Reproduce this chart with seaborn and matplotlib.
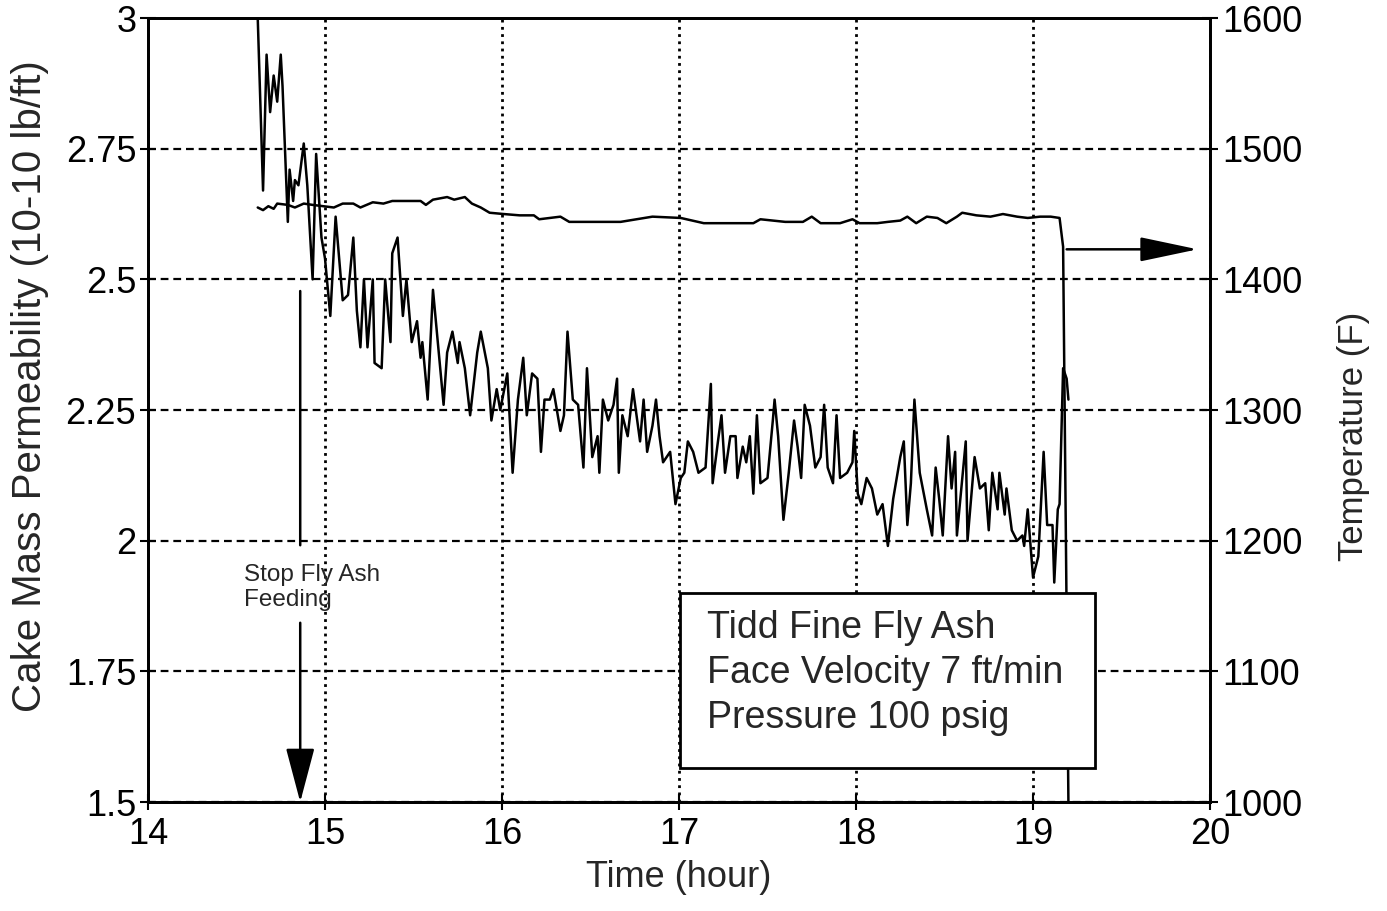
import matplotlib
matplotlib.use("Agg")
import matplotlib.pyplot as plt
from matplotlib.patches import Rectangle
import pandas as pd
import seaborn as sns

# cake mass permeability (10-10 lb/ft) vs time (hour)
perm_time = [
    14.62, 14.65, 14.67, 14.69, 14.71, 14.73, 14.75, 14.76, 14.79, 14.80,
    14.82, 14.83, 14.85, 14.88, 14.90, 14.93, 14.95, 14.98, 15.00, 15.03,
    15.06, 15.10, 15.13, 15.16, 15.18, 15.20, 15.22, 15.24, 15.27, 15.28,
    15.32, 15.34, 15.37, 15.38, 15.41, 15.44, 15.46, 15.49, 15.52, 15.54,
    15.55, 15.58, 15.61, 15.64, 15.67, 15.69, 15.72, 15.75, 15.76, 15.79,
    15.82, 15.86, 15.88, 15.92, 15.94, 15.97, 15.99, 16.03, 16.06, 16.09,
    16.12, 16.14, 16.17, 16.20, 16.22, 16.24, 16.27, 16.29, 16.33, 16.35,
    16.37, 16.40, 16.43, 16.46, 16.48, 16.51, 16.54, 16.55, 16.57, 16.60,
    16.63, 16.65, 16.66, 16.68, 16.71, 16.74, 16.78, 16.80, 16.82, 16.85,
    16.87, 16.89, 16.91, 16.95, 16.98, 17.01, 17.03, 17.05, 17.08, 17.11,
    17.15, 17.18, 17.19, 17.22, 17.24, 17.26, 17.29, 17.32, 17.33, 17.36,
    17.38, 17.40, 17.42, 17.44, 17.46, 17.50, 17.53, 17.54, 17.56, 17.59,
    17.62, 17.65, 17.67, 17.69, 17.71, 17.74, 17.77, 17.80, 17.82, 17.84,
    17.87, 17.89, 17.91, 17.95, 17.98, 17.99, 18.01, 18.03, 18.06, 18.09,
    18.12, 18.15, 18.18, 18.21, 18.25, 18.27, 18.29, 18.31, 18.33, 18.36,
    18.40, 18.43, 18.45, 18.47, 18.49, 18.52, 18.54, 18.56, 18.57, 18.62,
    18.63, 18.67, 18.70, 18.73, 18.75, 18.77, 18.80, 18.81, 18.84, 18.85,
    18.88, 18.91, 18.94, 18.95, 18.97, 19.00, 19.03, 19.06, 19.08, 19.11,
    19.12, 19.14, 19.15, 19.17, 19.19, 19.20,
]
perm_value = [
    3.00, 2.67, 2.93, 2.82, 2.89, 2.84, 2.93, 2.87, 2.61, 2.71,
    2.65, 2.69, 2.68, 2.76, 2.68, 2.50, 2.74, 2.58, 2.54, 2.43,
    2.62, 2.46, 2.47, 2.58, 2.44, 2.37, 2.50, 2.37, 2.50, 2.34,
    2.33, 2.50, 2.38, 2.55, 2.58, 2.43, 2.50, 2.38, 2.42, 2.35,
    2.38, 2.27, 2.48, 2.37, 2.26, 2.36, 2.40, 2.34, 2.38, 2.33,
    2.24, 2.36, 2.40, 2.33, 2.23, 2.29, 2.25, 2.32, 2.13, 2.27,
    2.35, 2.24, 2.32, 2.31, 2.17, 2.27, 2.27, 2.29, 2.21, 2.24,
    2.40, 2.27, 2.26, 2.14, 2.33, 2.16, 2.20, 2.13, 2.27, 2.23,
    2.26, 2.31, 2.13, 2.24, 2.20, 2.29, 2.19, 2.27, 2.17, 2.22,
    2.27, 2.20, 2.15, 2.17, 2.07, 2.12, 2.13, 2.19, 2.17, 2.13,
    2.14, 2.30, 2.11, 2.19, 2.24, 2.13, 2.20, 2.20, 2.12, 2.18,
    2.15, 2.20, 2.09, 2.24, 2.11, 2.12, 2.23, 2.27, 2.20, 2.04,
    2.13, 2.23, 2.18, 2.12, 2.26, 2.22, 2.14, 2.16, 2.26, 2.14,
    2.11, 2.24, 2.12, 2.13, 2.15, 2.21, 2.09, 2.07, 2.12, 2.10,
    2.05, 2.07, 1.99, 2.08, 2.16, 2.19, 2.03, 2.11, 2.27, 2.13,
    2.06, 2.01, 2.14, 2.08, 2.01, 2.20, 2.10, 2.17, 2.01, 2.19,
    2.00, 2.16, 2.10, 2.11, 2.02, 2.13, 2.06, 2.13, 2.05, 2.10,
    2.02, 2.00, 2.01, 1.99, 2.06, 1.93, 1.97, 2.17, 2.03, 2.03,
    1.92, 2.06, 2.07, 2.33, 2.31, 2.27,
]

# temperature (F) vs time (hour)
temp_time = [
    14.62, 14.65, 14.68, 14.71, 14.73, 14.79, 14.83, 14.88, 14.93, 14.99,
    15.05, 15.10, 15.16, 15.20, 15.27, 15.33, 15.38, 15.46, 15.54, 15.57,
    15.61, 15.69, 15.73, 15.79, 15.83, 15.88, 15.93, 16.01, 16.10, 16.18,
    16.21, 16.33, 16.38, 16.53, 16.67, 16.85, 17.01, 17.14, 17.29, 17.42,
    17.46, 17.60, 17.70, 17.75, 17.80, 17.91, 17.98, 18.02, 18.12, 18.18,
    18.25, 18.29, 18.34, 18.40, 18.46, 18.51, 18.57, 18.60, 18.68, 18.76,
    18.83, 18.91, 18.97, 19.04, 19.10, 19.15, 19.17, 19.20,
]
temp_value = [
    1455, 1453, 1456, 1454, 1458, 1457, 1455, 1458, 1457, 1456,
    1455, 1458, 1458, 1455, 1459, 1458, 1460, 1460, 1460, 1457,
    1461, 1463, 1461, 1463, 1458, 1455, 1451, 1450, 1449, 1449,
    1446, 1448, 1444, 1444, 1444, 1448, 1447, 1443, 1443, 1443,
    1446, 1444, 1444, 1448, 1443, 1443, 1446, 1443, 1443, 1444,
    1445, 1448, 1443, 1448, 1447, 1443, 1448, 1451, 1449, 1448,
    1450, 1448, 1447, 1448, 1448, 1447, 1425, 1000,
]

box_lines = ["Tidd Fine Fly Ash", "Face Velocity 7 ft/min", "Pressure 100 psig"]

sns.set_style("ticks")
plt.rcParams["font.family"] = ["Liberation Sans", "DejaVu Sans"]

perm = pd.DataFrame({"time": perm_time, "value": perm_value})
temp = pd.DataFrame({"time": temp_time, "value": temp_value})

fig = plt.figure(figsize=(13.87, 9.11), dpi=100)
ax = fig.add_axes([0.1067, 0.1196, 0.7657, 0.8606])
ax2 = ax.twinx()

sns.lineplot(data=perm, x="time", y="value", ax=ax, color="black", lw=1.8,
             estimator=None, sort=False)
sns.lineplot(data=temp, x="time", y="value", ax=ax2, color="black", lw=1.8,
             estimator=None, sort=False)

ax.set_xlim(14, 20)
ax.set_ylim(1.5, 3)
ax2.set_ylim(1000, 1600)
ax.set_xticks(range(14, 21))
ax.set_yticks([1.5, 1.75, 2, 2.25, 2.5, 2.75, 3])
ax.set_yticklabels(["1.5", "1.75", "2", "2.25", "2.5", "2.75", "3"])
ax2.set_yticks(range(1000, 1700, 100))

ax.grid(axis="x", color="black", lw=2.0, linestyle=(0, (1, 1.6)))
ax.grid(axis="y", color="black", lw=1.6, linestyle=(0, (3.5, 2.2)))
ax2.grid(False)

for a in (ax, ax2):
    a.tick_params(direction="inout", length=11, width=1.5, labelsize=26,
                  colors="black", pad=3)
    for s in a.spines.values():
        s.set_linewidth(2)
        s.set_color("black")
ax.tick_params(axis="x", pad=5)

ax.set_xlabel("Time (hour)", fontsize=26, labelpad=6)
ax.set_ylabel("Cake Mass Permeability (10-10 lb/ft)", fontsize=29)
ax.yaxis.set_label_coords(-0.093, 0.53)
ax2.set_ylabel("Temperature (F)", fontsize=25)
ax2.yaxis.set_label_coords(1.12, 0.467)

# stop fly ash feeding marker
ax.annotate("", xy=(14.86, 1.986), xytext=(14.86, 2.483),
            arrowprops=dict(arrowstyle="-", color="black", lw=1.8))
ax.annotate("", xy=(14.86, 1.5), xytext=(14.86, 1.843),
            arrowprops=dict(arrowstyle="-|>,head_length=1.7,head_width=0.45",
                            mutation_scale=20, color="black", lw=1.8,
                            shrinkA=0, shrinkB=0))
ax.text(14.54, 1.955, "Stop Fly Ash\nFeeding", fontsize=17.5, va="top", ha="left",
        linespacing=1.15)

# arrow pointing at the temperature axis
ax2.annotate("", xy=(19.93, 1423), xytext=(19.19, 1423),
             arrowprops=dict(arrowstyle="-|>,head_length=1.8,head_width=0.38",
                             mutation_scale=20, color="black", lw=1.8,
                             shrinkA=0, shrinkB=0))

# condition box, drawn over the temperature trace
ax2.add_patch(Rectangle((17.006, 1.565), 2.344, 0.335, transform=ax.transData,
                        fc="white", ec="black", lw=2, zorder=5))
ax2.text(17.158, 1.868, "\n".join(box_lines), transform=ax.transData,
         fontsize=27, va="top", ha="left", linespacing=1.32, zorder=6)

fig.savefig("out.png", dpi=100)
